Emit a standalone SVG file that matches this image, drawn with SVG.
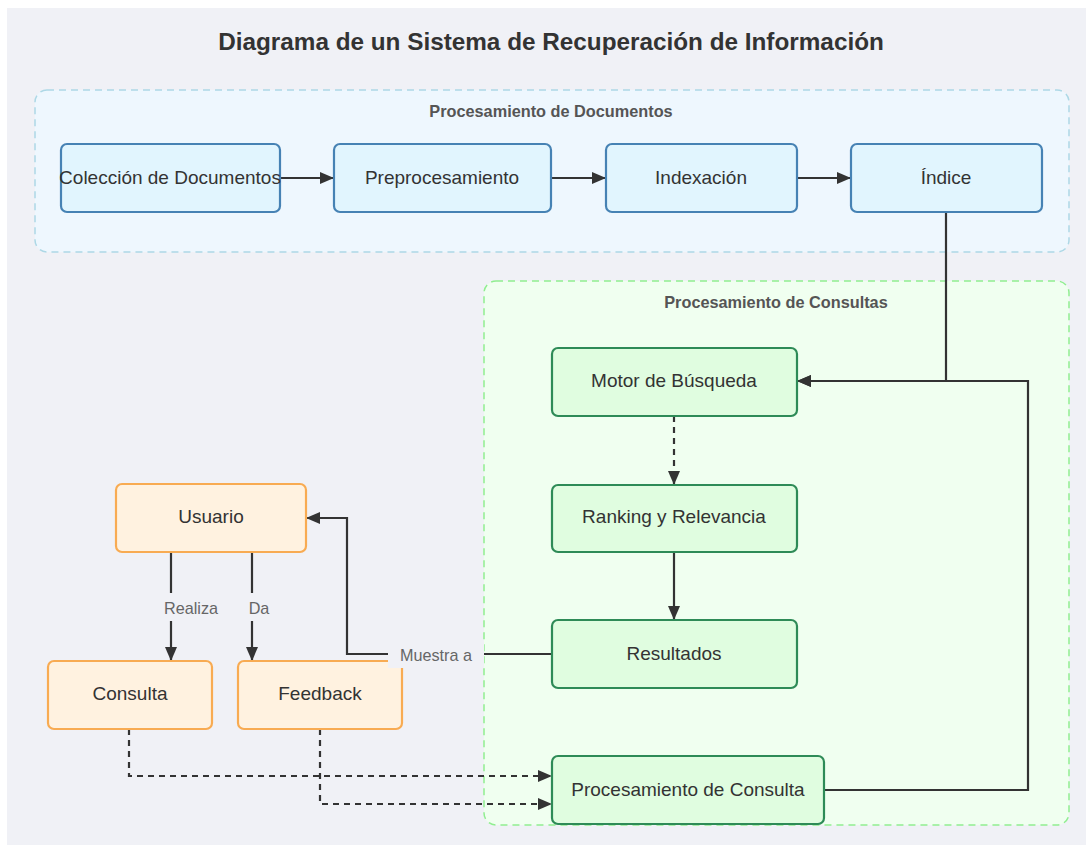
<svg xmlns="http://www.w3.org/2000/svg" width="1086" height="845" viewBox="0 0 1086 845">
<style>
text{font-family:"Liberation Sans",Arial,sans-serif;}
.title{font-size:24.3px;font-weight:bold;fill:#333;text-anchor:middle;}
.clabel{font-size:16.3px;font-weight:bold;fill:#555;text-anchor:middle;}
.nt{font-size:19px;fill:#333;text-anchor:middle;}
.el{font-size:16.2px;fill:#666;text-anchor:middle;}
.blue{fill:#e1f5fe;stroke:#4682b4;stroke-width:2.2;}
.green{fill:#e0fde0;stroke:#2e8b57;stroke-width:2.2;}
.orange{fill:#fff2e0;stroke:#f8ab52;stroke-width:2.2;}
.ln{fill:none;stroke:#333;stroke-width:2.2;}
.dash{stroke-dasharray:6,5;}
.lbg{fill:#f0f1f6;}
</style>
<defs>
<marker id="a" viewBox="0 0 14 12" refX="14" refY="6" markerWidth="14" markerHeight="12" orient="auto" markerUnits="userSpaceOnUse">
<path d="M0,0 L14,6 L0,12 z" fill="#333"/>
</marker>
</defs>
<rect x="0" y="0" width="1086" height="845" fill="#ffffff"/>
<rect x="7" y="8" width="1079" height="837" fill="#f0f1f6"/>
<text class="title" x="551" y="50">Diagrama de un Sistema de Recuperación de Información</text>

<g id="cluster-documentos">
<rect x="35" y="90" width="1034" height="162" rx="12" fill="#eef7fe" stroke="#add8e6" stroke-width="1.5" stroke-dasharray="7,5"/>
<text class="clabel" x="551" y="117">Procesamiento de Documentos</text>
</g>
<g id="cluster-consultas">
<rect x="484" y="281" width="585" height="544" rx="12" fill="#f0fff0" stroke="#90ee90" stroke-width="1.5" stroke-dasharray="7,5"/>
<text class="clabel" x="776" y="308">Procesamiento de Consultas</text>
</g>

<g id="connectors">
<path class="ln" d="M280,178 H334" marker-end="url(#a)"/>
<path class="ln" d="M551,178 H606" marker-end="url(#a)"/>
<path class="ln" d="M797,178 H851" marker-end="url(#a)"/>
<path class="ln" d="M946,212 V381 H797" marker-end="url(#a)"/>
<path class="ln" d="M824,790 H1028 V381 H797" marker-end="url(#a)"/>
<path class="ln dash" d="M674,416 V485" marker-end="url(#a)"/>
<path class="ln" d="M674,552 V620" marker-end="url(#a)"/>
<path class="ln" d="M552,654 H347 V518 H306" marker-end="url(#a)"/>
<path class="ln" d="M171,552 V661" marker-end="url(#a)"/>
<path class="ln" d="M252,552 V661" marker-end="url(#a)"/>
<path class="ln dash" d="M129,729 V776 H552" marker-end="url(#a)"/>
<path class="ln dash" d="M320,729 V804 H552" marker-end="url(#a)"/>
<rect class="lbg" x="162" y="593" width="58" height="28"/>
<text class="el" x="191" y="613.5">Realiza</text>
<rect class="lbg" x="246" y="593" width="26" height="28"/>
<text class="el" x="259" y="613.5">Da</text>
</g>

<g id="n-coleccion"><rect class="blue" x="61" y="144" width="219" height="68" rx="6"/><text class="nt" x="170" y="184">Colección de Documentos</text></g>
<g id="n-preprocesamiento"><rect class="blue" x="334" y="144" width="217" height="68" rx="6"/><text class="nt" x="442" y="184">Preprocesamiento</text></g>
<g id="n-indexacion"><rect class="blue" x="606" y="144" width="191" height="68" rx="6"/><text class="nt" x="701" y="184">Indexación</text></g>
<g id="n-indice"><rect class="blue" x="851" y="144" width="191" height="68" rx="6"/><text class="nt" x="946" y="184">Índice</text></g>

<g id="n-motor"><rect class="green" x="552" y="348" width="245" height="68" rx="6"/><text class="nt" x="674" y="387">Motor de Búsqueda</text></g>
<g id="n-ranking"><rect class="green" x="552" y="485" width="245" height="67" rx="6"/><text class="nt" x="674" y="523">Ranking y Relevancia</text></g>
<g id="n-resultados"><rect class="green" x="552" y="620" width="245" height="68" rx="6"/><text class="nt" x="674" y="660">Resultados</text></g>
<g id="n-procconsulta"><rect class="green" x="552" y="756" width="272" height="68" rx="6"/><text class="nt" x="688" y="796">Procesamiento de Consulta</text></g>

<g id="n-usuario"><rect class="orange" x="116" y="484" width="190" height="68" rx="6"/><text class="nt" x="211" y="523">Usuario</text></g>
<g id="n-consulta"><rect class="orange" x="48" y="661" width="164" height="68" rx="6"/><text class="nt" x="130" y="700">Consulta</text></g>
<g id="n-feedback"><rect class="orange" x="238" y="661" width="164" height="68" rx="6"/><text class="nt" x="320" y="700">Feedback</text></g>

<g id="label-muestra">
<rect class="lbg" x="388" y="641" width="96" height="27"/>
<text class="el" x="436" y="661">Muestra a</text>
</g>
</svg>
